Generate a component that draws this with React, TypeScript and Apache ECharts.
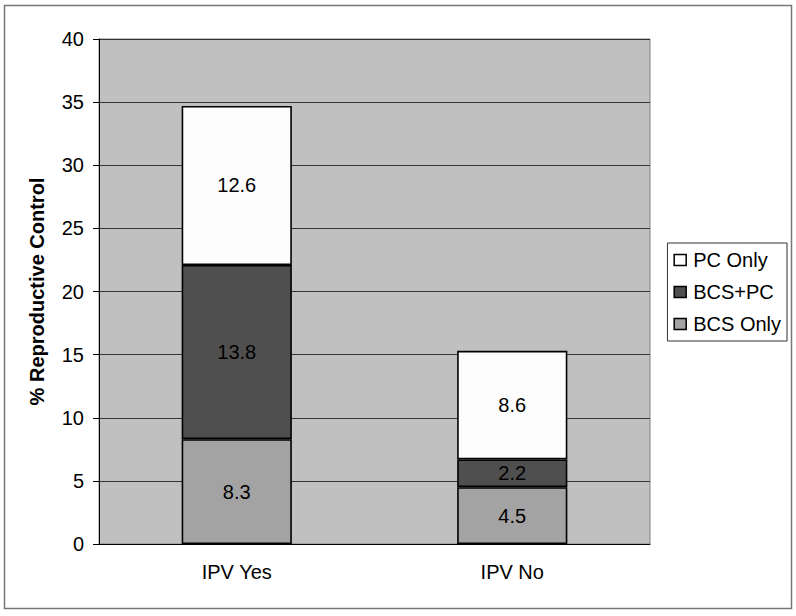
import React, { useEffect, useRef } from "react";
import * as echarts from "echarts";

const categories = ["IPV Yes", "IPV No"];
const bcsOnly = [8.3, 4.5];
const bcsPc = [13.8, 2.2];
const pcOnly = [12.6, 8.6];
const legendOrder = ["PC Only", "BCS+PC", "BCS Only"];

export default function App() {
  const ref = useRef<HTMLDivElement>(null);
  useEffect(() => {
    if (!ref.current) return;
    const chart = echarts.init(ref.current, null, { renderer: "svg" });
    const font = "Liberation Sans, Arial, sans-serif";
    const mk = (name: string, data: number[], color: string) => ({
      name,
      type: "bar",
      stack: "total",
      data,
      barWidth: "40%",
      itemStyle: { color, borderColor: "#000", borderWidth: 1.6 },
      label: {
        show: true,
        position: "inside",
        color: "#000",
        fontSize: 20,
        fontFamily: font,
      },
    });
    chart.setOption({
      animation: false,
      backgroundColor: "#fff",
      textStyle: { fontFamily: font },
      graphic: [
        {
          type: "rect",
          shape: { x: 4.5, y: 5.5, width: 787, height: 603 },
          style: { fill: "none", stroke: "#777", lineWidth: 1.5 },
          silent: true,
        },
      ],
      grid: {
        left: 99,
        right: 146,
        top: 39,
        bottom: 72,
        show: true,
        backgroundColor: "#c0c0c0",
        borderColor: "#808080",
        borderWidth: 1,
      },
      legend: {
        orient: "vertical",
        right: 9,
        top: 243,
        data: legendOrder,
        itemWidth: 12,
        itemHeight: 11,
        itemGap: 12,
        padding: [7, 6, 7, 6],
        borderColor: "#333",
        borderWidth: 1,
        backgroundColor: "#fff",
        icon: "rect",
        itemStyle: { borderColor: "#000", borderWidth: 1.5 },
        textStyle: { fontSize: 20, color: "#000", fontFamily: font, padding: [0, 0, 0, 2] },
      },
      xAxis: {
        type: "category",
        data: categories,
        axisLine: { lineStyle: { color: "#000", width: 1 } },
        axisTick: { show: false },
        axisLabel: { fontSize: 20, color: "#000", margin: 18, fontFamily: font },
      },
      yAxis: {
        type: "value",
        min: 0,
        max: 40,
        interval: 5,
        name: "% Reproductive Control",
        nameLocation: "middle",
        nameGap: 52,
        nameTextStyle: { fontSize: 20, fontWeight: "bold", color: "#000", fontFamily: font },
        axisLine: { show: true, lineStyle: { color: "#000", width: 1 } },
        axisTick: { show: true, length: 6, lineStyle: { color: "#000" } },
        axisLabel: { fontSize: 20, color: "#000", margin: 15, fontFamily: font },
        splitLine: { show: true, lineStyle: { color: "#333", width: 1 } },
      },
      series: [
        mk("BCS Only", bcsOnly, "#a3a3a3"),
        mk("BCS+PC", bcsPc, "#4f4f4f"),
        mk("PC Only", pcOnly, "#fdfdfd"),
      ],
    });
    return () => chart.dispose();
  }, []);
  return (
    <div
      ref={ref}
      style={{ position: "absolute", left: 0, top: 0, width: 796, height: 616 }}
    />
  );
}
